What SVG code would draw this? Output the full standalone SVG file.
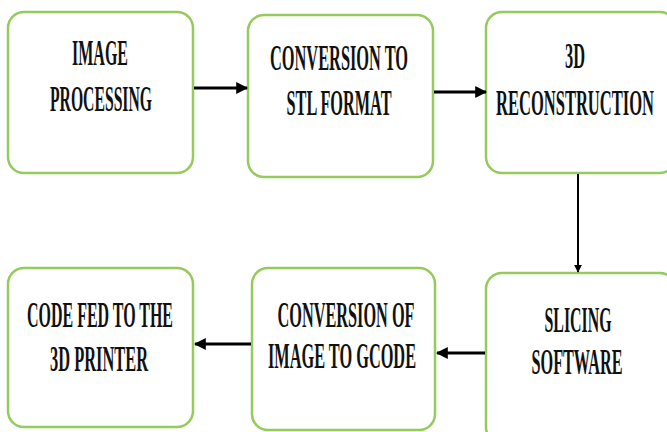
<svg xmlns="http://www.w3.org/2000/svg" width="667" height="432" viewBox="0 0 667 432">
<defs>
<marker id="ah" viewBox="0 0 10 10" refX="9" refY="5" markerWidth="4" markerHeight="4" orient="auto" markerUnits="strokeWidth">
<path d="M0,0 L10,5 L0,10 z" fill="#000"/>
</marker>
<style>
.box{fill:#fff;stroke:#94cb5c;stroke-width:2.5}
.t{font-family:'Liberation Serif','Times New Roman',serif;font-size:24px;font-weight:bold;fill:#111;text-anchor:middle}
.c{stroke:#000;fill:none;marker-end:url(#ah)}
</style>
</defs>
<rect width="667" height="432" fill="#fff"/>
<g id="n1">
<rect class="box" x="8" y="12" width="185" height="161" rx="16"/>
<text class="t" transform="translate(100,65) scale(1,1.45)" textLength="56" lengthAdjust="spacingAndGlyphs">IMAGE</text>
<text class="t" transform="translate(101,111) scale(1,1.45)" textLength="102" lengthAdjust="spacingAndGlyphs">PROCESSING</text>
</g>
<g id="n2">
<rect class="box" x="248" y="15" width="185" height="162" rx="16"/>
<text class="t" transform="translate(339,70) scale(1,1.45)" textLength="138" lengthAdjust="spacingAndGlyphs">CONVERSION TO</text>
<text class="t" transform="translate(339,115) scale(1,1.45)" textLength="105" lengthAdjust="spacingAndGlyphs">STL FORMAT</text>
</g>
<g id="n3">
<rect class="box" x="486" y="12" width="190" height="161" rx="16"/>
<text class="t" transform="translate(575,68) scale(1,1.45)" textLength="20" lengthAdjust="spacingAndGlyphs">3D</text>
<text class="t" transform="translate(575,115) scale(1,1.45)" textLength="158" lengthAdjust="spacingAndGlyphs">RECONSTRUCTION</text>
</g>
<g id="n4">
<rect class="box" x="486" y="273" width="190" height="170" rx="16"/>
<text class="t" transform="translate(578,332) scale(1,1.45)" textLength="67" lengthAdjust="spacingAndGlyphs">SLICING</text>
<text class="t" transform="translate(577,374) scale(1,1.45)" textLength="91" lengthAdjust="spacingAndGlyphs">SOFTWARE</text>
</g>
<g id="n5">
<rect class="box" x="252" y="268" width="183" height="162" rx="16"/>
<text class="t" transform="translate(346,327) scale(1,1.45)" textLength="137" lengthAdjust="spacingAndGlyphs">CONVERSION OF</text>
<text class="t" transform="translate(342,368) scale(1,1.45)" textLength="148" lengthAdjust="spacingAndGlyphs">IMAGE TO GCODE</text>
</g>
<g id="n6">
<rect class="box" x="8" y="268" width="185" height="159" rx="16"/>
<text class="t" transform="translate(100,327) scale(1,1.45)" textLength="146" lengthAdjust="spacingAndGlyphs">CODE FED TO THE</text>
<text class="t" transform="translate(99,371) scale(1,1.45)" textLength="98" lengthAdjust="spacingAndGlyphs">3D PRINTER</text>
</g>
<g id="connectors">
<line class="c" x1="194" y1="88" x2="247" y2="88" stroke-width="3"/>
<line class="c" x1="434" y1="92" x2="486" y2="92" stroke-width="3"/>
<line class="c" x1="578" y1="174" x2="578" y2="272" stroke-width="2"/>
<line class="c" x1="485" y1="353" x2="437" y2="353" stroke-width="3"/>
<line class="c" x1="251" y1="344" x2="195" y2="344" stroke-width="3"/>
</g>
</svg>
